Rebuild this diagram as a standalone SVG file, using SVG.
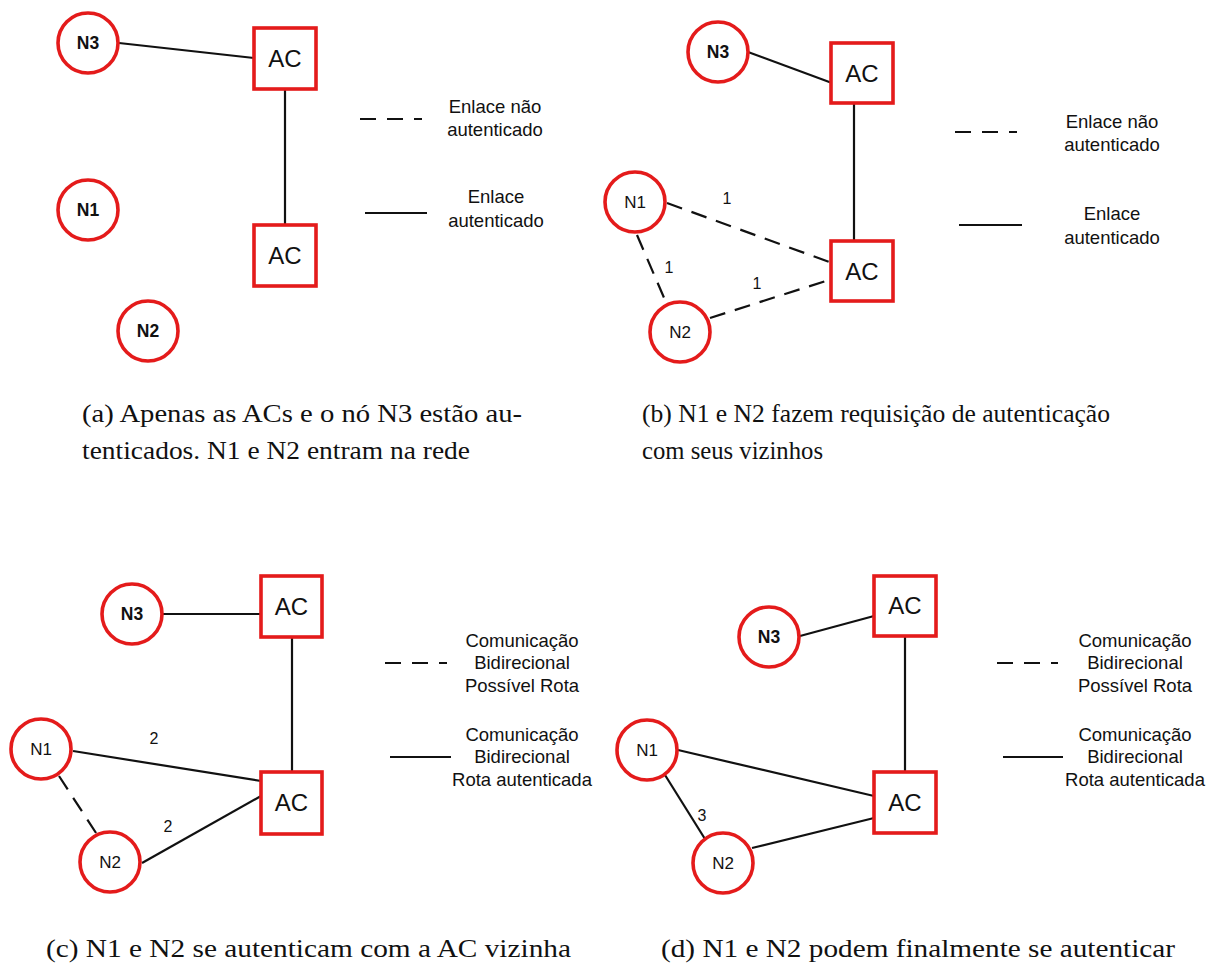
<svg xmlns="http://www.w3.org/2000/svg" width="1220" height="970" viewBox="0 0 1220 970">
  <style>
    .node { fill: #ffffff; stroke: #e41b1b; stroke-width: 3.6; }
    .link { stroke: #111111; stroke-width: 2.2; fill: none; }
    .dash { stroke-dasharray: 16 10; }
    .lab { font-family: "Liberation Sans", Arial, sans-serif; fill: #111111; text-anchor: middle; }
    .nb { font-size: 17.5px; font-weight: bold; }
    .nn { font-size: 17px; }
    .ac { font-size: 24px; }
    .num { font-family: "Liberation Sans", Arial, sans-serif; font-size: 16px; fill: #111111; text-anchor: middle; }
    .leg { font-family: "Liberation Sans", Arial, sans-serif; font-size: 18.5px; fill: #111111; text-anchor: middle; }
    .cap { font-family: "Liberation Serif", "Times New Roman", serif; font-size: 25px; fill: #111111; }
  </style>
  <rect width="1220" height="970" fill="#ffffff"/>

  <!-- (a) -->
  <g id="connectors-a">
    <line class="link" x1="119" y1="43" x2="254" y2="58"/>
    <line class="link" x1="285" y1="89" x2="285" y2="225"/>
  </g>
  <g id="a-N3"><circle class="node" cx="88" cy="43" r="30"/><text class="lab nb" x="88" y="49">N3</text></g>
  <g id="a-N1"><circle class="node" cx="88" cy="210" r="30"/><text class="lab nb" x="88" y="216">N1</text></g>
  <g id="a-N2"><circle class="node" cx="148" cy="331" r="30"/><text class="lab nb" x="148" y="337">N2</text></g>
  <g id="a-AC1"><rect class="node" x="254" y="28" width="62" height="61"/><text class="lab ac" x="285" y="67">AC</text></g>
  <g id="a-AC2"><rect class="node" x="254" y="225" width="62" height="61"/><text class="lab ac" x="285" y="264">AC</text></g>
  <g id="legend-a">
    <line class="link" x1="360" y1="119" x2="422" y2="119" stroke-dasharray="16 11"/>
    <text class="leg" x="495" y="113">Enlace não</text>
    <text class="leg" x="495" y="136">autenticado</text>
    <line class="link" x1="365" y1="213" x2="427" y2="213"/>
    <text class="leg" x="496" y="203">Enlace</text>
    <text class="leg" x="496" y="227">autenticado</text>
  </g>
  <text class="cap" x="82" y="422" textLength="440" lengthAdjust="spacingAndGlyphs">(a) Apenas as ACs e o nó N3 estão au-</text>
  <text class="cap" x="82" y="459" textLength="388" lengthAdjust="spacingAndGlyphs">tenticados. N1 e N2 entram na rede</text>

  <!-- (b) -->
  <g id="connectors-b">
    <line class="link" x1="748" y1="52" x2="832" y2="83"/>
    <line class="link" x1="854" y1="103" x2="854" y2="241"/>
    <line class="link dash" x1="667" y1="203" x2="832" y2="263"/>
    <line class="link dash" x1="637" y1="235" x2="665" y2="300"/>
    <line class="link dash" x1="710" y1="318" x2="832" y2="279"/>
    <text class="num" x="727" y="204">1</text>
    <text class="num" x="669" y="273">1</text>
    <text class="num" x="757" y="289">1</text>
  </g>
  <g id="b-N3"><circle class="node" cx="718" cy="52" r="30"/><text class="lab nb" x="718" y="58">N3</text></g>
  <g id="b-N1"><circle class="node" cx="635" cy="202" r="30"/><text class="lab nn" x="635" y="208">N1</text></g>
  <g id="b-N2"><circle class="node" cx="680" cy="332" r="30"/><text class="lab nn" x="680" y="338">N2</text></g>
  <g id="b-AC1"><rect class="node" x="831" y="43" width="62" height="60"/><text class="lab ac" x="862" y="82">AC</text></g>
  <g id="b-AC2"><rect class="node" x="831" y="241" width="62" height="60"/><text class="lab ac" x="862" y="280">AC</text></g>
  <g id="legend-b">
    <line class="link" x1="955" y1="132" x2="1017" y2="132" stroke-dasharray="16 11"/>
    <text class="leg" x="1112" y="128">Enlace não</text>
    <text class="leg" x="1112" y="151">autenticado</text>
    <line class="link" x1="959" y1="225" x2="1022" y2="225"/>
    <text class="leg" x="1112" y="220">Enlace</text>
    <text class="leg" x="1112" y="244">autenticado</text>
  </g>
  <text class="cap" x="642" y="422" textLength="468" lengthAdjust="spacingAndGlyphs">(b) N1 e N2 fazem requisição de autenticação</text>
  <text class="cap" x="642" y="459" textLength="181" lengthAdjust="spacingAndGlyphs">com seus vizinhos</text>

  <!-- (c) -->
  <g id="connectors-c">
    <line class="link" x1="163" y1="614" x2="261" y2="614"/>
    <line class="link" x1="292" y1="637" x2="292" y2="772"/>
    <line class="link" x1="73" y1="751" x2="261" y2="781"/>
    <line class="link" x1="142" y1="863" x2="261" y2="796"/>
    <line class="link dash" x1="59" y1="776" x2="98" y2="836"/>
    <text class="num" x="154" y="744">2</text>
    <text class="num" x="168" y="832">2</text>
  </g>
  <g id="c-N3"><circle class="node" cx="132" cy="614" r="30"/><text class="lab nb" x="132" y="620">N3</text></g>
  <g id="c-N1"><circle class="node" cx="41" cy="749" r="30"/><text class="lab nn" x="41" y="755">N1</text></g>
  <g id="c-N2"><circle class="node" cx="110" cy="862" r="30"/><text class="lab nn" x="110" y="868">N2</text></g>
  <g id="c-AC1"><rect class="node" x="261" y="576" width="61" height="61"/><text class="lab ac" x="291.5" y="615">AC</text></g>
  <g id="c-AC2"><rect class="node" x="261" y="772" width="61" height="62"/><text class="lab ac" x="291.5" y="811">AC</text></g>
  <g id="legend-c">
    <line class="link" x1="385" y1="663" x2="447" y2="663" stroke-dasharray="16 11"/>
    <text class="leg" x="522" y="647">Comunicação</text>
    <text class="leg" x="522" y="669">Bidirecional</text>
    <text class="leg" x="522" y="692">Possível Rota</text>
    <line class="link" x1="390" y1="757" x2="451" y2="757"/>
    <text class="leg" x="522" y="741">Comunicação</text>
    <text class="leg" x="522" y="763">Bidirecional</text>
    <text class="leg" x="522" y="786">Rota autenticada</text>
  </g>
  <text class="cap" x="46" y="957" textLength="525" lengthAdjust="spacingAndGlyphs">(c) N1 e N2 se autenticam com a AC vizinha</text>

  <!-- (d) -->
  <g id="connectors-d">
    <line class="link" x1="800" y1="636" x2="874" y2="616"/>
    <line class="link" x1="905" y1="636" x2="905" y2="772"/>
    <line class="link" x1="678" y1="750" x2="874" y2="796"/>
    <line class="link" x1="752" y1="848" x2="874" y2="818"/>
    <line class="link" x1="665" y1="775" x2="705" y2="839"/>
    <text class="num" x="702" y="821">3</text>
  </g>
  <g id="d-N3"><circle class="node" cx="769" cy="637" r="30"/><text class="lab nb" x="769" y="643">N3</text></g>
  <g id="d-N1"><circle class="node" cx="647" cy="750" r="30"/><text class="lab nn" x="647" y="756">N1</text></g>
  <g id="d-N2"><circle class="node" cx="723" cy="863" r="30"/><text class="lab nn" x="723" y="869">N2</text></g>
  <g id="d-AC1"><rect class="node" x="874" y="576" width="62" height="60"/><text class="lab ac" x="905" y="614">AC</text></g>
  <g id="d-AC2"><rect class="node" x="874" y="772" width="62" height="61"/><text class="lab ac" x="905" y="811">AC</text></g>
  <g id="legend-d">
    <line class="link" x1="997" y1="663" x2="1058" y2="663" stroke-dasharray="16 11"/>
    <text class="leg" x="1135" y="647">Comunicação</text>
    <text class="leg" x="1135" y="669">Bidirecional</text>
    <text class="leg" x="1135" y="692">Possível Rota</text>
    <line class="link" x1="1003" y1="757" x2="1063" y2="757"/>
    <text class="leg" x="1135" y="741">Comunicação</text>
    <text class="leg" x="1135" y="763">Bidirecional</text>
    <text class="leg" x="1135" y="786">Rota autenticada</text>
  </g>
  <text class="cap" x="661" y="957" textLength="514" lengthAdjust="spacingAndGlyphs">(d) N1 e N2 podem finalmente se autenticar</text>
</svg>
